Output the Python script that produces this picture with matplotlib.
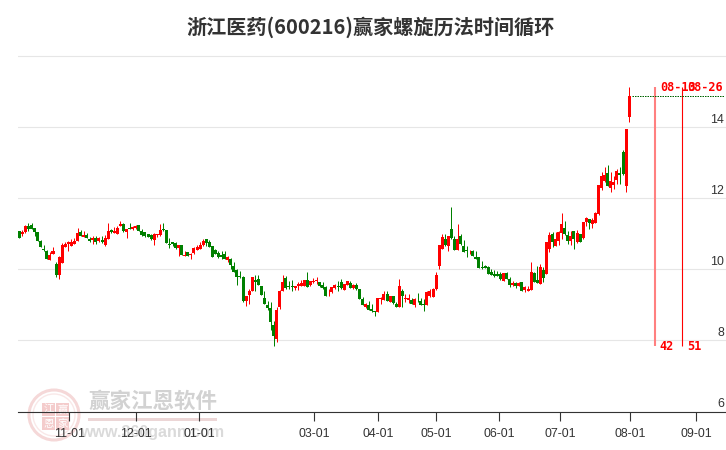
import matplotlib
matplotlib.use("Agg")
import matplotlib.pyplot as plt
from matplotlib.patches import Circle, Rectangle
from matplotlib.transforms import Affine2D

plt.rcParams['font.family'] = ['Liberation Sans', 'Noto Sans CJK SC', 'DejaVu Sans']

title = "浙江医药(600216)赢家螺旋历法时间循环"

open_p = [11.07, 11.00, 11.03, 11.22, 11.23, 11.15, 11.03, 10.79, 10.58, 10.51,
          10.27, 10.43, 10.14, 9.85, 10.18, 10.62, 10.72, 10.66, 10.72, 10.80,
          11.04, 10.91, 10.96, 10.84, 10.81, 10.87, 10.80, 10.83, 10.69, 10.86,
          11.09, 11.02, 11.00, 11.22, 11.27, 11.05, 11.15, 11.13, 11.16, 11.23,
          11.07, 11.03, 11.00, 10.95, 10.83, 10.97, 10.95, 11.13, 11.09, 10.71,
          10.76, 10.73, 10.59, 10.67, 10.38, 10.47, 10.41, 10.46, 10.55, 10.58,
          10.69, 10.84, 10.76, 10.64, 10.55, 10.45, 10.40, 10.42, 10.27, 10.28,
          10.08, 9.98, 9.80, 9.78, 9.10, 9.28, 9.39, 9.70, 9.72, 9.53,
          9.19, 8.99, 8.91, 8.43, 8.05, 8.94, 9.40, 9.75, 9.53, 9.53,
          9.47, 9.54, 9.54, 9.54, 9.69, 9.56, 9.63, 9.66, 9.63, 9.55,
          9.50, 9.32, 9.35, 9.47, 9.54, 9.64, 9.42, 9.55, 9.61, 9.46,
          9.56, 9.44, 9.16, 8.94, 8.98, 8.88, 8.82, 8.81, 9.17, 9.14,
          9.30, 9.09, 9.25, 9.02, 8.95, 9.39, 9.15, 9.14, 9.13, 9.00,
          9.12, 9.10, 9.01, 9.00, 9.24, 9.23, 9.44, 10.10, 10.58, 10.85,
          10.66, 11.13, 10.85, 10.55, 10.93, 10.64, 10.55, 10.50, 10.51, 10.34,
          10.33, 10.06, 10.08, 10.05, 9.92, 9.86, 9.86, 9.86, 9.68, 9.89,
          9.72, 9.55, 9.60, 9.54, 9.64, 9.42, 9.40, 9.41, 9.89, 9.69,
          9.59, 9.98, 9.87, 10.58, 10.99, 10.65, 10.80, 11.01, 11.15, 10.96,
          10.79, 11.06, 10.75, 10.99, 10.87, 11.33, 11.40, 11.26, 11.31, 11.55,
          12.27, 12.48, 12.70, 12.27, 12.36, 12.50, 12.70, 13.28, 12.34, 14.28]
close_p = [10.88, 11.05, 11.20, 11.13, 11.13, 11.03, 10.80, 10.63, 10.55, 10.29,
           10.40, 10.51, 9.85, 10.34, 10.67, 10.70, 10.77, 10.75, 10.79, 11.02,
           10.94, 10.96, 10.88, 10.80, 10.87, 10.75, 10.87, 10.75, 10.87, 11.07,
           11.04, 11.07, 11.17, 11.27, 11.06, 11.13, 11.13, 11.19, 11.22, 11.08,
           10.95, 10.94, 10.91, 10.84, 10.98, 11.00, 11.09, 11.09, 10.74, 10.69,
           10.72, 10.60, 10.67, 10.41, 10.40, 10.38, 10.44, 10.59, 10.62, 10.68,
           10.78, 10.73, 10.63, 10.35, 10.43, 10.33, 10.33, 10.29, 10.34, 10.12,
           9.93, 9.79, 9.77, 9.10, 9.24, 9.39, 9.78, 9.63, 9.56, 9.28,
           9.03, 8.90, 8.53, 8.11, 8.85, 9.39, 9.64, 9.46, 9.51, 9.51,
           9.54, 9.58, 9.61, 9.69, 9.51, 9.66, 9.68, 9.69, 9.53, 9.47,
           9.26, 9.34, 9.49, 9.55, 9.49, 9.47, 9.58, 9.66, 9.47, 9.55,
           9.44, 9.17, 9.00, 9.01, 8.86, 8.83, 8.81, 9.19, 9.19, 9.29,
           9.11, 9.24, 9.05, 8.95, 9.53, 9.24, 9.19, 9.19, 9.03, 9.16,
           9.10, 9.00, 9.00, 9.35, 9.39, 9.45, 9.83, 10.68, 10.89, 10.69,
           10.92, 10.88, 10.55, 10.86, 10.71, 10.49, 10.50, 10.52, 10.38, 10.28,
           10.04, 10.02, 10.04, 9.87, 9.83, 9.82, 9.82, 9.72, 9.89, 9.72,
           9.55, 9.61, 9.54, 9.60, 9.40, 9.49, 9.45, 9.91, 9.65, 9.62,
           10.07, 9.76, 10.75, 10.97, 10.77, 10.85, 11.05, 11.27, 10.99, 10.80,
           10.92, 10.85, 11.01, 10.77, 11.33, 11.44, 11.30, 11.38, 11.58, 12.36,
           12.62, 12.64, 12.34, 12.48, 12.46, 12.77, 12.64, 12.67, 13.94, 14.85]
high_p = [11.07, 11.11, 11.24, 11.31, 11.31, 11.15, 11.03, 10.81, 10.68, 10.55,
          10.47, 10.62, 10.20, 10.37, 10.73, 10.75, 10.79, 10.85, 10.87, 11.16,
          11.10, 11.07, 11.02, 10.90, 10.92, 10.93, 10.91, 10.93, 10.96, 11.30,
          11.13, 11.18, 11.22, 11.34, 11.30, 11.13, 11.30, 11.22, 11.24, 11.24,
          11.13, 11.03, 11.00, 11.00, 11.02, 11.00, 11.27, 11.30, 11.11, 10.87,
          10.77, 10.75, 10.67, 10.67, 10.52, 10.48, 10.45, 10.61, 10.69, 10.75,
          10.85, 10.85, 10.81, 10.65, 10.58, 10.50, 10.51, 10.51, 10.37, 10.31,
          10.19, 10.00, 9.95, 9.82, 9.25, 9.44, 9.78, 9.83, 9.83, 9.54,
          9.39, 9.10, 9.07, 8.55, 8.93, 9.41, 9.85, 9.82, 9.68, 9.70,
          9.54, 9.65, 9.70, 9.70, 9.93, 9.68, 9.75, 9.78, 9.65, 9.63,
          9.52, 9.44, 9.51, 9.59, 9.66, 9.72, 9.58, 9.68, 9.66, 9.57,
          9.60, 9.45, 9.21, 9.05, 9.10, 9.02, 8.82, 9.19, 9.21, 9.40,
          9.40, 9.24, 9.25, 9.07, 9.72, 9.44, 9.30, 9.30, 9.18, 9.18,
          9.33, 9.20, 9.16, 9.40, 9.44, 9.46, 9.92, 10.68, 10.99, 10.99,
          10.94, 11.76, 10.94, 11.27, 10.99, 10.82, 10.66, 10.55, 10.53, 10.50,
          10.33, 10.22, 10.12, 10.08, 10.00, 9.97, 9.96, 9.93, 9.89, 9.91,
          9.77, 9.68, 9.63, 9.65, 9.65, 9.53, 9.54, 10.19, 9.91, 10.09,
          10.14, 10.05, 10.75, 11.03, 11.03, 11.05, 11.08, 11.58, 11.36, 11.08,
          11.06, 11.06, 11.09, 10.99, 11.33, 11.47, 11.40, 11.45, 11.61, 12.36,
          12.72, 12.86, 12.92, 12.72, 12.62, 12.81, 12.86, 13.35, 13.94, 15.11]
low_p = [10.88, 10.94, 11.02, 11.08, 11.13, 10.94, 10.80, 10.61, 10.50, 10.29,
         10.26, 10.43, 9.78, 9.73, 10.18, 10.62, 10.52, 10.66, 10.72, 10.80,
         10.92, 10.90, 10.88, 10.77, 10.72, 10.72, 10.75, 10.74, 10.66, 10.86,
         11.02, 11.02, 10.99, 11.22, 11.05, 10.87, 11.13, 11.11, 11.13, 11.07,
         10.94, 10.90, 10.90, 10.83, 10.69, 10.90, 10.94, 11.08, 10.73, 10.59,
         10.64, 10.58, 10.37, 10.40, 10.37, 10.37, 10.29, 10.44, 10.54, 10.57,
         10.66, 10.66, 10.62, 10.34, 10.42, 10.31, 10.28, 10.28, 10.20, 10.00,
         9.92, 9.56, 9.74, 9.07, 8.96, 9.02, 9.39, 9.38, 9.55, 9.27,
         9.02, 8.86, 8.30, 7.85, 7.96, 8.89, 9.40, 9.44, 9.44, 9.40,
         9.41, 9.41, 9.54, 9.54, 9.50, 9.54, 9.61, 9.59, 9.51, 9.45,
         9.25, 9.25, 9.34, 9.44, 9.40, 9.44, 9.41, 9.55, 9.46, 9.45,
         9.42, 9.16, 8.99, 8.92, 8.85, 8.81, 8.69, 8.81, 9.02, 9.14,
         9.10, 9.08, 9.03, 8.94, 8.94, 8.95, 9.07, 9.05, 9.02, 8.93,
         9.09, 8.99, 8.83, 9.00, 9.23, 9.22, 9.41, 10.00, 10.57, 10.66,
         10.52, 10.86, 10.54, 10.54, 10.69, 10.47, 10.35, 10.42, 10.37, 10.28,
         10.03, 10.01, 10.02, 9.86, 9.83, 9.79, 9.80, 9.69, 9.67, 9.71,
         9.49, 9.54, 9.48, 9.54, 9.39, 9.37, 9.39, 9.41, 9.64, 9.61,
         9.58, 9.65, 9.86, 10.48, 10.63, 10.64, 10.68, 10.86, 10.96, 10.71,
         10.68, 10.57, 10.74, 10.76, 10.86, 11.20, 11.13, 11.17, 11.30, 11.53,
         12.23, 12.44, 12.33, 12.18, 12.25, 12.39, 12.39, 12.64, 12.18, 14.14]

date_pos = [16.3, 38.2, 58.7, 96.2, 117.0, 136.0, 156.5, 176.4, 199.2, 220.9]
date_labels = ["11-01", "12-01", "01-01", "03-01", "04-01", "05-01", "06-01", "07-01", "08-01", "09-01"]
grid_values = [6, 8, 10, 12, 14, 16]
price_labels = ["6", "8", "10", "12", "14"]
time_pos = [207.4, 216.4]
time_dates = ["08-13", "08-26"]
time_counts = ["42", "51"]

RED = "#ff0000"
GREEN = "#008000"
W, H = 726, 450

fig = plt.figure(figsize=(7.26, 4.5), dpi=100, facecolor="white")
# image pixels, y down, for the watermark and the title
px = Affine2D().scale(1, -1).translate(0, H)

ax = fig.add_axes([18 / W, (H - 411.6) / H, 708 / W, 357.5 / H], zorder=2)
ax.patch.set_visible(False)
ax.set_xlim(-0.42, 230.6)
ax.set_ylim(6, 16.04)
for s in ["top", "left", "right"]:
    ax.spines[s].set_visible(False)
ax.spines["bottom"].set_color("#333333")
ax.spines["bottom"].set_linewidth(0.8)

ax.set_yticks(grid_values)
ax.tick_params(axis="y", length=0, labelleft=False)
ax.grid(axis="y", color="#e6e6e6", linewidth=0.8)
ax.set_axisbelow(True)
ax.set_xticks(date_pos, date_labels)
ax.tick_params(axis="x", length=6.5, width=0.8, color="#333333", pad=5, labelsize=8.9, labelcolor="#333333")

for v, t in zip(grid_values, price_labels):
    ax.annotate(t, (1, v), xycoords=("axes fraction", "data"), xytext=(-1.5, 3), textcoords="offset points",
                ha="right", va="baseline", fontsize=8.9, color="#333333")

# candles, red means up
for i in range(len(open_p)):
    c = RED if close_p[i] >= open_p[i] else GREEN
    ax.vlines(i, low_p[i], high_p[i], color=c, linewidth=0.72, zorder=3)
    ax.bar(i, abs(close_p[i] - open_p[i]), bottom=min(open_p[i], close_p[i]), width=0.98, color=c, linewidth=0, zorder=3)

low_all = min(low_p)
high_all = max(high_p)
ax.vlines(time_pos[0], low_all, high_all, color="#ff8080", linewidth=1.5, zorder=3)
ax.vlines(time_pos[1], low_all, high_all, color=RED, linewidth=0.8, zorder=3)
ax.hlines(close_p[-1], len(close_p), 230, color="#006400", linewidth=0.72, linestyles=(0, (1.5, 1)), zorder=3)

for x, d, n in zip(time_pos, time_dates, time_counts):
    ax.annotate(d, (x, high_all), xytext=(3.6, -0.5), textcoords="offset points", ha="left", va="center",
                fontsize=8.6, fontweight="bold", family="DejaVu Sans Mono", color=RED, zorder=4)
    ax.annotate(n, (x, low_all), xytext=(3.6, -0.5), textcoords="offset points", ha="left", va="center",
                fontsize=8.6, fontweight="bold", family="DejaVu Sans Mono", color=RED, zorder=4)

# title
fig.text(371, 27, title, transform=px, ha="center", va="center", fontsize=14.5, fontweight="bold",
         color="#333333", family=["Noto Sans CJK SC", "DejaVu Sans"])

# watermark
fig.add_artist(Circle((54, 415), 25, transform=px, fill=False, edgecolor="#f5d8d8", linewidth=2.2, zorder=1))
fig.add_artist(Circle((54, 415), 21, transform=px, fill=False, edgecolor="#f9e8e8", linewidth=1, zorder=1))
for bx, by, ch in [(42, 403, "江"), (56, 403, "赢"), (42, 417, "恩"), (56, 417, "家")]:
    fig.add_artist(Rectangle((bx, by), 13, 13, transform=px, facecolor="#f4cccc", edgecolor="none", zorder=1))
    fig.text(bx + 6.5, by + 6.5, ch, transform=px, ha="center", va="center", fontsize=7.5, color="white",
             family=["Noto Sans CJK SC"], zorder=1)
fig.text(152.5, 401, "赢家江恩软件", transform=px, ha="center", va="center", fontsize=15.5, color="#d2d2d2",
         fontweight="bold", family=["Noto Sans CJK SC"], zorder=1)
fig.add_artist(Rectangle((88, 418), 129, 2.5, transform=px, facecolor="#ecd6d6", edgecolor="none", zorder=1))
fig.text(152.5, 432, "www.360gann.com", transform=px, ha="center", va="center", fontsize=11.5, color="#dadada",
         fontweight="bold", family=["Liberation Sans"], zorder=1)

fig.savefig("out.png", dpi=100)
